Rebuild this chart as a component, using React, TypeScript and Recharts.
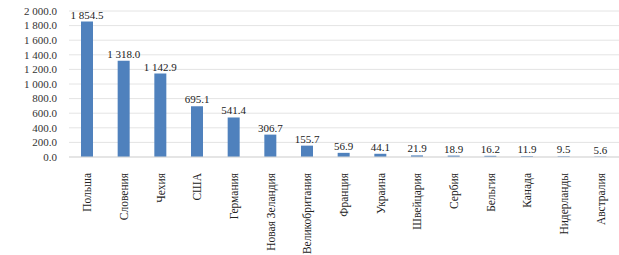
import { BarChart, Bar, XAxis, YAxis, CartesianGrid, LabelList } from "recharts";

const countries = [
  "Польша",
  "Словения",
  "Чехия",
  "США",
  "Германия",
  "Новая Зеландия",
  "Великобритания",
  "Франция",
  "Украина",
  "Швейцария",
  "Сербия",
  "Бельгия",
  "Канада",
  "Нидерланды",
  "Австралия",
];

const values = [1854.5, 1318.0, 1142.9, 695.1, 541.4, 306.7, 155.7, 56.9, 44.1, 21.9, 18.9, 16.2, 11.9, 9.5, 5.6];

const yTicks = [0, 200, 400, 600, 800, 1000, 1200, 1400, 1600, 1800, 2000];

const data = countries.map((name, i) => ({ name, value: values[i] }));

const FONT = "'Liberation Serif', 'Times New Roman', serif";

// thousands separated by a no-break space so the label is not wrapped
function fmt(v: number) {
  const [int, dec] = v.toFixed(1).split(".");
  return int.replace(/\B(?=(\d{3})+(?!\d))/g, "\u00a0") + "." + dec;
}

function CountryTick(props: any) {
  const { x, y, payload } = props;
  return (
    <g transform={`translate(${x},${y + 8}) rotate(-90)`}>
      <text textAnchor="end" dy="0.35em" fontSize={11.5} fontFamily={FONT} fill="#222">
        {payload.value}
      </text>
    </g>
  );
}

function ValueTick(props: any) {
  const { x, y, payload } = props;
  return (
    <text x={x} y={y} dy="0.35em" textAnchor="end" fontSize={11} fontFamily={FONT} fill="#333">
      {fmt(payload.value)}
    </text>
  );
}

export default function App() {
  return (
    <div style={{ position: "absolute", left: 0, top: 0, background: "#fff", fontFamily: FONT }}>
      <BarChart
        width={619}
        height={255}
        data={data}
        margin={{ top: 11, right: 0, bottom: 0, left: 0 }}
        barSize={12}
      >
        <CartesianGrid vertical={false} stroke="#e4e4e4" />
        <XAxis
          dataKey="name"
          interval={0}
          tickLine={false}
          axisLine={{ stroke: "#d9d9d9" }}
          tick={<CountryTick />}
          height={98}
        />
        <YAxis
          width={69}
          domain={[0, 2000]}
          ticks={yTicks}
          interval={0}
          axisLine={false}
          tickLine={false}
          tickMargin={6}
          tick={<ValueTick />}
        />
        <Bar dataKey="value" fill="#4f81bd" isAnimationActive={false}>
          <LabelList
            dataKey="value"
            position="top"
            offset={3}
            formatter={(v: any) => fmt(Number(v))}
            style={{ fontSize: 11, fontFamily: FONT, fill: "#222" }}
          />
        </Bar>
      </BarChart>
    </div>
  );
}
